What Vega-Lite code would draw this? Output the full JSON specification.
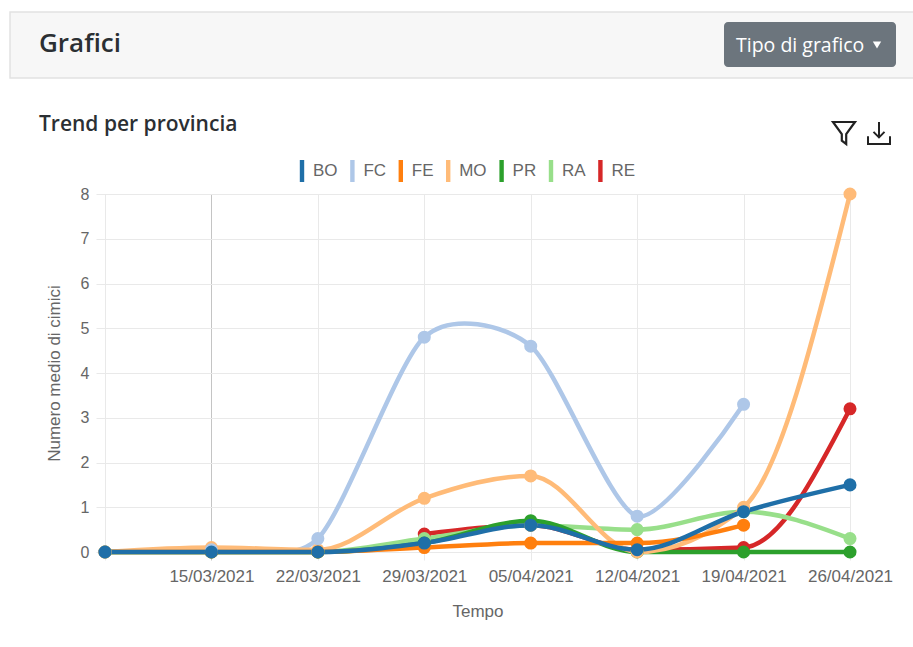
{
"$schema":"https://vega.github.io/schema/vega-lite/v6.json",
"width":745,"height":358,
"autosize":{"type":"none"},
"padding":{"left":105,"top":194,"right":63,"bottom":95},
"background":"#ffffff",
"title":{"text":"Grafici","subtitle":"Trend per provincia","anchor":"start","frame":"group","dx":-66,"offset":-124,"font":"Open Sans","fontSize":26,"fontWeight":600,"color":"#2b2f33","subtitleFont":"Open Sans","subtitleFontSize":21,"subtitleFontWeight":600,"subtitleColor":"#2b2f33","subtitlePadding":57},
"data":{"values":[
{"data":"2021-03-29","prov":"RE","val":0.4},{"data":"2021-04-05","prov":"RE","val":0.6},{"data":"2021-04-12","prov":"RE","val":0.05},{"data":"2021-04-19","prov":"RE","val":0.1},{"data":"2021-04-26","prov":"RE","val":3.2},
{"data":"2021-03-08","prov":"RA","val":0},{"data":"2021-03-15","prov":"RA","val":0},{"data":"2021-03-22","prov":"RA","val":0},{"data":"2021-03-29","prov":"RA","val":0.3},{"data":"2021-04-05","prov":"RA","val":0.6},{"data":"2021-04-12","prov":"RA","val":0.5},{"data":"2021-04-19","prov":"RA","val":0.9},{"data":"2021-04-26","prov":"RA","val":0.3},
{"data":"2021-03-08","prov":"PR","val":0},{"data":"2021-03-15","prov":"PR","val":0},{"data":"2021-03-22","prov":"PR","val":0},{"data":"2021-03-29","prov":"PR","val":0.2},{"data":"2021-04-05","prov":"PR","val":0.7},{"data":"2021-04-12","prov":"PR","val":0},{"data":"2021-04-19","prov":"PR","val":0},{"data":"2021-04-26","prov":"PR","val":0},
{"data":"2021-03-08","prov":"MO","val":0},{"data":"2021-03-15","prov":"MO","val":0.1},{"data":"2021-03-22","prov":"MO","val":0.05},{"data":"2021-03-29","prov":"MO","val":1.2},{"data":"2021-04-05","prov":"MO","val":1.7},{"data":"2021-04-12","prov":"MO","val":0},{"data":"2021-04-19","prov":"MO","val":1},{"data":"2021-04-26","prov":"MO","val":8},
{"data":"2021-03-08","prov":"FE","val":0},{"data":"2021-03-15","prov":"FE","val":0},{"data":"2021-03-22","prov":"FE","val":0},{"data":"2021-03-29","prov":"FE","val":0.1},{"data":"2021-04-05","prov":"FE","val":0.2},{"data":"2021-04-12","prov":"FE","val":0.2},{"data":"2021-04-19","prov":"FE","val":0.6},
{"data":"2021-03-08","prov":"FC","val":0},{"data":"2021-03-15","prov":"FC","val":0.05},{"data":"2021-03-22","prov":"FC","val":0.3},{"data":"2021-03-29","prov":"FC","val":4.8},{"data":"2021-04-05","prov":"FC","val":4.6},{"data":"2021-04-12","prov":"FC","val":0.8},{"data":"2021-04-19","prov":"FC","val":3.3},
{"data":"2021-03-08","prov":"BO","val":0},{"data":"2021-03-15","prov":"BO","val":0},{"data":"2021-03-22","prov":"BO","val":0},{"data":"2021-03-29","prov":"BO","val":0.2},{"data":"2021-04-05","prov":"BO","val":0.6},{"data":"2021-04-12","prov":"BO","val":0.05},{"data":"2021-04-19","prov":"BO","val":0.9},{"data":"2021-04-26","prov":"BO","val":1.5}
]},
"encoding":{
"x":{"field":"data","type":"temporal","scale":{"type":"utc","domain":["2021-03-08","2021-04-26"]},
"axis":{"title":"Tempo","titleFont":"Liberation Sans","titleFontSize":17,"titleFontWeight":"normal","titleColor":"#666666","titlePadding":19,
"values":["2021-03-08","2021-03-15","2021-03-22","2021-03-29","2021-04-05","2021-04-12","2021-04-19","2021-04-26"],
"labelExpr":"utcdate(datum.value)==8 ? '' : utcFormat(datum.value,'%d/%m/%Y')","labelFont":"Liberation Sans","labelFontSize":17,"labelColor":"#666666","labelPadding":8,"labelOverlap":false,"labelFlush":false,
"grid":true,"gridColor":{"condition":{"test":"utcdate(datum.value)==15","value":"#c4c4c4"},"value":"#e9e9e9"},"gridWidth":1,"domain":false,"ticks":true,"tickSize":8,"tickColor":{"condition":{"test":"utcdate(datum.value)==15","value":"#c4c4c4"},"value":"#e9e9e9"}}},
"y":{"field":"val","type":"quantitative","scale":{"domain":[0,8],"nice":false},
"axis":{"title":"Numero medio di cimici","titleFont":"Liberation Sans","titleFontSize":17,"titleFontWeight":"normal","titleColor":"#666666","titlePadding":17,
"values":[0,1,2,3,4,5,6,7,8],"labelFont":"Liberation Sans","labelFontSize":16,"labelColor":"#666666","labelPadding":7,"grid":true,"gridColor":"#e9e9e9","gridWidth":1,"domain":false,"ticks":true,"tickSize":9,"tickColor":"#e9e9e9"}}
},
"layer":[
{"data":{"values":[{}]},"mark":{"type":"rect","x":-95,"x2":830,"y":-182,"y2":-116,"fill":"#f7f7f7","stroke":"#e2e2e2","strokeWidth":1.5},"encoding":{"x":{},"y":{}}},
{"data":{"values":[{}]},"mark":{"type":"rule","x":-95,"y":-116,"y2":460,"stroke":"#e2e2e2","strokeWidth":1.5},"encoding":{"x":{},"y":{}}},
{"data":{"values":[{}]},"mark":{"type":"rect","x":619,"x2":791,"y":-172,"y2":-127,"fill":"#6c757d","cornerRadius":4},"encoding":{"x":{},"y":{}}},
{"data":{"values":[{}]},"mark":{"type":"text","x":631,"y":-148,"align":"left","baseline":"middle","text":"Tipo di grafico","font":"Open Sans","fontSize":19.5,"fill":"#ffffff"},"encoding":{"x":{},"y":{}}},
{"data":{"values":[{}]},"mark":{"type":"point","x":772,"y":-149,"shape":"triangle-down","size":70,"filled":true,"fill":"#ffffff","opacity":1},"encoding":{"x":{},"y":{}}},
{"data":{"values":[{}]},"mark":{"type":"point","x":739,"y":-61,"shape":"M-1,-1 L1,-1 L0.2,0.1 L0.2,1 L-0.2,0.7 L-0.2,0.1 Z","size":484,"filled":false,"stroke":"#222222","strokeWidth":2.2,"opacity":1},"encoding":{"x":{},"y":{}}},
{"data":{"values":[{}]},"mark":{"type":"point","x":774,"y":-61,"shape":"M0,-1 L0,0.4 M-0.5,-0.1 L0,0.4 L0.5,-0.1 M-1,0.3 L-1,1 L1,1 L1,0.3","size":484,"filled":false,"stroke":"#222222","strokeWidth":2,"opacity":1},"encoding":{"x":{},"y":{}}},
{"transform":[{"filter":"datum.prov==='FC'"}],"mark":{"type":"line","interpolate":"cardinal","tension":0.25,"strokeWidth":4.5,"clip":true,"stroke":"#aec7e8"},"encoding":{}},
{"transform":[{"filter":"datum.prov!=='FC'"}],"mark":{"type":"line","interpolate":"monotone","strokeWidth":4.5},
 "encoding":{"color":{"field":"prov","type":"nominal","scale":{"domain":["BO","FC","FE","MO","PR","RA","RE"],"range":["#1f6fa8","#aec7e8","#ff7f0e","#ffbb78","#2ca02c","#98df8a","#d62728"]},
 "legend":{"title":null,"orient":"none","legendX":186,"legendY":-34,"direction":"horizontal","symbolType":"M-0.2,-1 L0.2,-1 L0.2,1 L-0.2,1 Z","symbolSize":484,"symbolOpacity":1,"symbolStrokeWidth":0,"labelFont":"Liberation Sans","labelFontSize":17,"labelColor":"#666666","labelOffset":0,"columnPadding":3.4}}}},
{"mark":{"type":"point","filled":true,"size":170,"opacity":1},
 "encoding":{"color":{"field":"prov","type":"nominal","scale":{"domain":["BO","FC","FE","MO","PR","RA","RE"],"range":["#1f6fa8","#aec7e8","#ff7f0e","#ffbb78","#2ca02c","#98df8a","#d62728"]},
 "legend":{"title":null,"orient":"none","legendX":186,"legendY":-34,"direction":"horizontal","symbolType":"M-0.2,-1 L0.2,-1 L0.2,1 L-0.2,1 Z","symbolSize":484,"symbolOpacity":1,"symbolStrokeWidth":0,"labelFont":"Liberation Sans","labelFontSize":17,"labelColor":"#666666","labelOffset":0,"columnPadding":3.4}}}}
]
}
